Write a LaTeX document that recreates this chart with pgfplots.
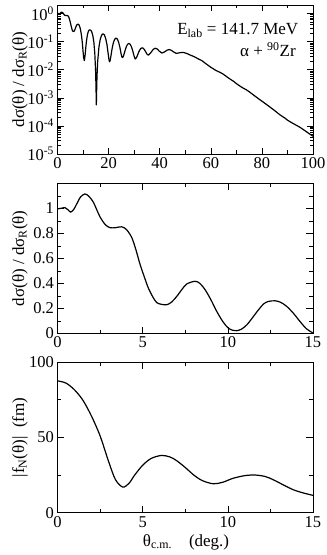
\documentclass[border=0pt]{standalone}
\usepackage{fontspec}
\setmainfont{Liberation Serif}
\usepackage{pgfplots}
\pgfplotsset{compat=1.18}
\pgfplotsset{gstyle/.style={
  scale only axis, width=255.5pt, enlargelimits=false,
  tick align=inside, major tick length=6.5pt, minor tick length=3.5pt,
  every tick/.style={black, line width=0.5pt},
  axis line style={black, line width=0.7pt},
  tick label style={font=\fontsize{16.5}{19}\selectfont},
  label style={font=\fontsize{17}{20}\selectfont},
  /pgf/number format/assume math mode=true,
  ylabel style={at={(axis description cs:-0.147,0.5)}, anchor=center},
}}
\begin{document}
\begin{tikzpicture}
\path[use as bounding box] (0,0) rectangle (327pt,555pt);
% ---------- panel 1 ----------
\begin{axis}[gstyle, at={(57.5pt,401pt)}, anchor=south west, height=149pt,
  ymode=log, xmin=0, xmax=100, ymin=1e-5, ymax=2,
  xtick={0,20,...,100}, minor xtick={10,30,...,90},
  ytick={1e-5,1e-4,1e-3,1e-2,1e-1,1},
  yticklabels={10\textsuperscript{-5},10\textsuperscript{-4},10\textsuperscript{-3},10\textsuperscript{-2},10\textsuperscript{-1},10\textsuperscript{0}},
  minor ytick={2e-5,3e-5,4e-5,5e-5,6e-5,7e-5,8e-5,9e-5,
    2e-4,3e-4,4e-4,5e-4,6e-4,7e-4,8e-4,9e-4,
    2e-3,3e-3,4e-3,5e-3,6e-3,7e-3,8e-3,9e-3,
    0.02,0.03,0.04,0.05,0.06,0.07,0.08,0.09,
    0.2,0.3,0.4,0.5,0.6,0.7,0.8,0.9,2},
  ylabel={dσ(θ) / dσ\textsubscript{R}(θ)}]
\addplot[black, mark=none, line width=1.2pt, line join=round] coordinates {
(0,0.995) (0.2,1.0) (0.44,1.005) (0.6,0.99) (0.77,0.97) (0.95,0.99) (1.13,1.035) (1.35,1.09) (1.61,1.115) (1.85,1.095) (2.1,1.05) (2.3,0.99) (2.5,0.93) (2.8,0.87) (3.08,0.845) (3.4,0.845) (3.77,0.852) (4.05,0.83) (4.36,0.766) (4.6,0.67) (4.85,0.55) (5.1,0.45) (5.33,0.363) (5.6,0.29) (5.83,0.245) (6.1,0.232) (6.41,0.228) (6.7,0.25) (7.0,0.295) (7.3,0.35) (7.59,0.395) (8.07,0.416) (8.35,0.40) (8.66,0.35) (9.0,0.27) (9.35,0.175) (9.7,0.095) (10.0,0.045) (10.25,0.026) (10.52,0.021) (10.8,0.033) (11.11,0.067) (11.45,0.125) (11.8,0.188) (12.1,0.235) (12.38,0.255) (12.77,0.26) (13.1,0.248) (13.46,0.215) (13.85,0.16) (14.24,0.094) (14.6,0.038) (14.93,0.0081) (15.0,0.0044) (15.1,0.0017) (15.2,0.00056) (15.33,0.002) (15.46,0.0059) (15.72,0.0196) (16.24,0.066) (16.76,0.124) (17.28,0.171) (17.8,0.19) (18.32,0.174) (18.84,0.131) (19.36,0.078) (19.88,0.0344) (20.14,0.0225) (20.4,0.019) (20.65,0.0221) (20.9,0.0303) (21.4,0.0586) (21.9,0.0934) (22.4,0.1217) (22.9,0.133) (23.4,0.1233) (23.9,0.0966) (24.4,0.0634) (24.9,0.0367) (25.15,0.0293) (25.4,0.027) (25.65,0.0283) (25.91,0.0325) (26.42,0.0473) (26.93,0.0657) (27.44,0.0805) (27.95,0.086) (28.46,0.0799) (28.97,0.0645) (29.48,0.0455) (29.99,0.0301) (30.25,0.0256) (30.5,0.024) (31.01,0.0279) (31.52,0.0367) (32.03,0.0473) (32.54,0.0561) (33.05,0.06) (33.56,0.0579) (34.07,0.0509) (34.58,0.0421) (35.09,0.0351) (35.6,0.033) (36.66,0.0418) (37.46,0.0526) (38.25,0.058) (39.05,0.0544) (39.84,0.0454) (40.9,0.039) (42.02,0.0435) (42.86,0.0494) (43.7,0.052) (44.54,0.0491) (45.38,0.043) (46.5,0.038) (47.5,0.0395) (48.5,0.041) (49.5,0.0405) (50.5,0.038) (52,0.033) (53.5,0.029) (55,0.0245) (56.5,0.021) (58,0.0165) (60,0.0122) (62,0.0094) (64,0.0077) (65,0.0068) (67,0.005) (69,0.0038) (70,0.0032) (72,0.0024) (74,0.0019) (75,0.00165) (77,0.0012) (79,0.00088) (80,0.00076) (82,0.00056) (84,0.00041) (85,0.00035) (87,0.00025) (89,0.00019) (90,0.00016) (92,0.000125) (94,0.000099) (95,0.000088) (97,0.000066) (98.5,0.000053) (100,0.0000427)
};
\node[anchor=base east, font=\fontsize{17}{20}\selectfont] at (rel axis cs:0.956,0.80) {E\textsubscript{lab} = 141.7 MeV};
\node[anchor=base east, font=\fontsize{17}{20}\selectfont] at (rel axis cs:0.946,0.653) {α + \textsuperscript{90}Zr};
\end{axis}
% ---------- panel 2 ----------
\begin{axis}[gstyle, at={(57.5pt,221.7pt)}, anchor=south west, height=150pt,
  xmin=0, xmax=15, ymin=0, ymax=1.2,
  xtick={0,5,10,15}, minor xtick={2.5,7.5,12.5},
  ytick={0,0.2,0.4,0.6,0.8,1}, minor ytick={0.1,0.3,0.5,0.7,0.9,1.1},
  ylabel={dσ(θ) / dσ\textsubscript{R}(θ)}]
\addplot[black, mark=none, line width=1.2pt, smooth] coordinates {
(0,0.995) (0.2,1.0) (0.44,1.005) (0.6,0.99) (0.77,0.97) (0.95,0.99) (1.13,1.035) (1.35,1.09) (1.61,1.115) (1.85,1.095) (2.1,1.05) (2.3,0.99) (2.5,0.93) (2.8,0.87) (3.08,0.845) (3.4,0.845) (3.77,0.852) (4.05,0.83) (4.36,0.766) (4.6,0.67) (4.85,0.55) (5.1,0.45) (5.33,0.363) (5.6,0.29) (5.83,0.245) (6.1,0.232) (6.41,0.228) (6.7,0.25) (7.0,0.295) (7.3,0.35) (7.59,0.395) (8.07,0.416) (8.35,0.40) (8.66,0.35) (9.0,0.27) (9.35,0.175) (9.7,0.095) (10.0,0.045) (10.25,0.026) (10.52,0.021) (10.8,0.033) (11.11,0.067) (11.45,0.125) (11.8,0.188) (12.1,0.235) (12.38,0.255) (12.77,0.26) (13.1,0.248) (13.46,0.215) (13.85,0.16) (14.24,0.094) (14.6,0.038) (14.93,0.0081) (15.0,0.0044)
};
\end{axis}
% ---------- panel 3 ----------
\begin{axis}[gstyle, at={(57.5pt,42.3pt)}, anchor=south west, height=150.7pt,
  xmin=0, xmax=15, ymin=0, ymax=100,
  xtick={0,5,10,15}, minor xtick={2.5,7.5,12.5},
  ytick={0,50,100}, minor ytick={25,75},
  ylabel={|f\textsubscript{N}(θ)|\enspace (fm)},
  xlabel={θ\textsubscript{c.m.}\quad (deg.)},
  xlabel style={at={(axis description cs:0.503,-0.221)}, anchor=base}]
\addplot[black, mark=none, line width=1.2pt, smooth] coordinates {
(0,87.5) (0.5,86) (1.0,81.5) (1.5,74.5) (2.0,64) (2.5,51) (3.0,34) (3.4,22) (3.83,17) (4.2,19.5) (4.5,24.5) (5.0,31.5) (5.5,36) (6.1,38) (6.6,37) (7.0,34.5) (7.5,30) (8.0,25) (8.5,21.3) (9.15,19.2) (9.7,20.2) (10.3,22.8) (11.0,24.6) (11.6,25) (12.2,24) (12.7,21.7) (13.3,18.2) (13.85,15.2) (14.4,13.2) (15,11.5)
};
\end{axis}
\end{tikzpicture}
\end{document}
